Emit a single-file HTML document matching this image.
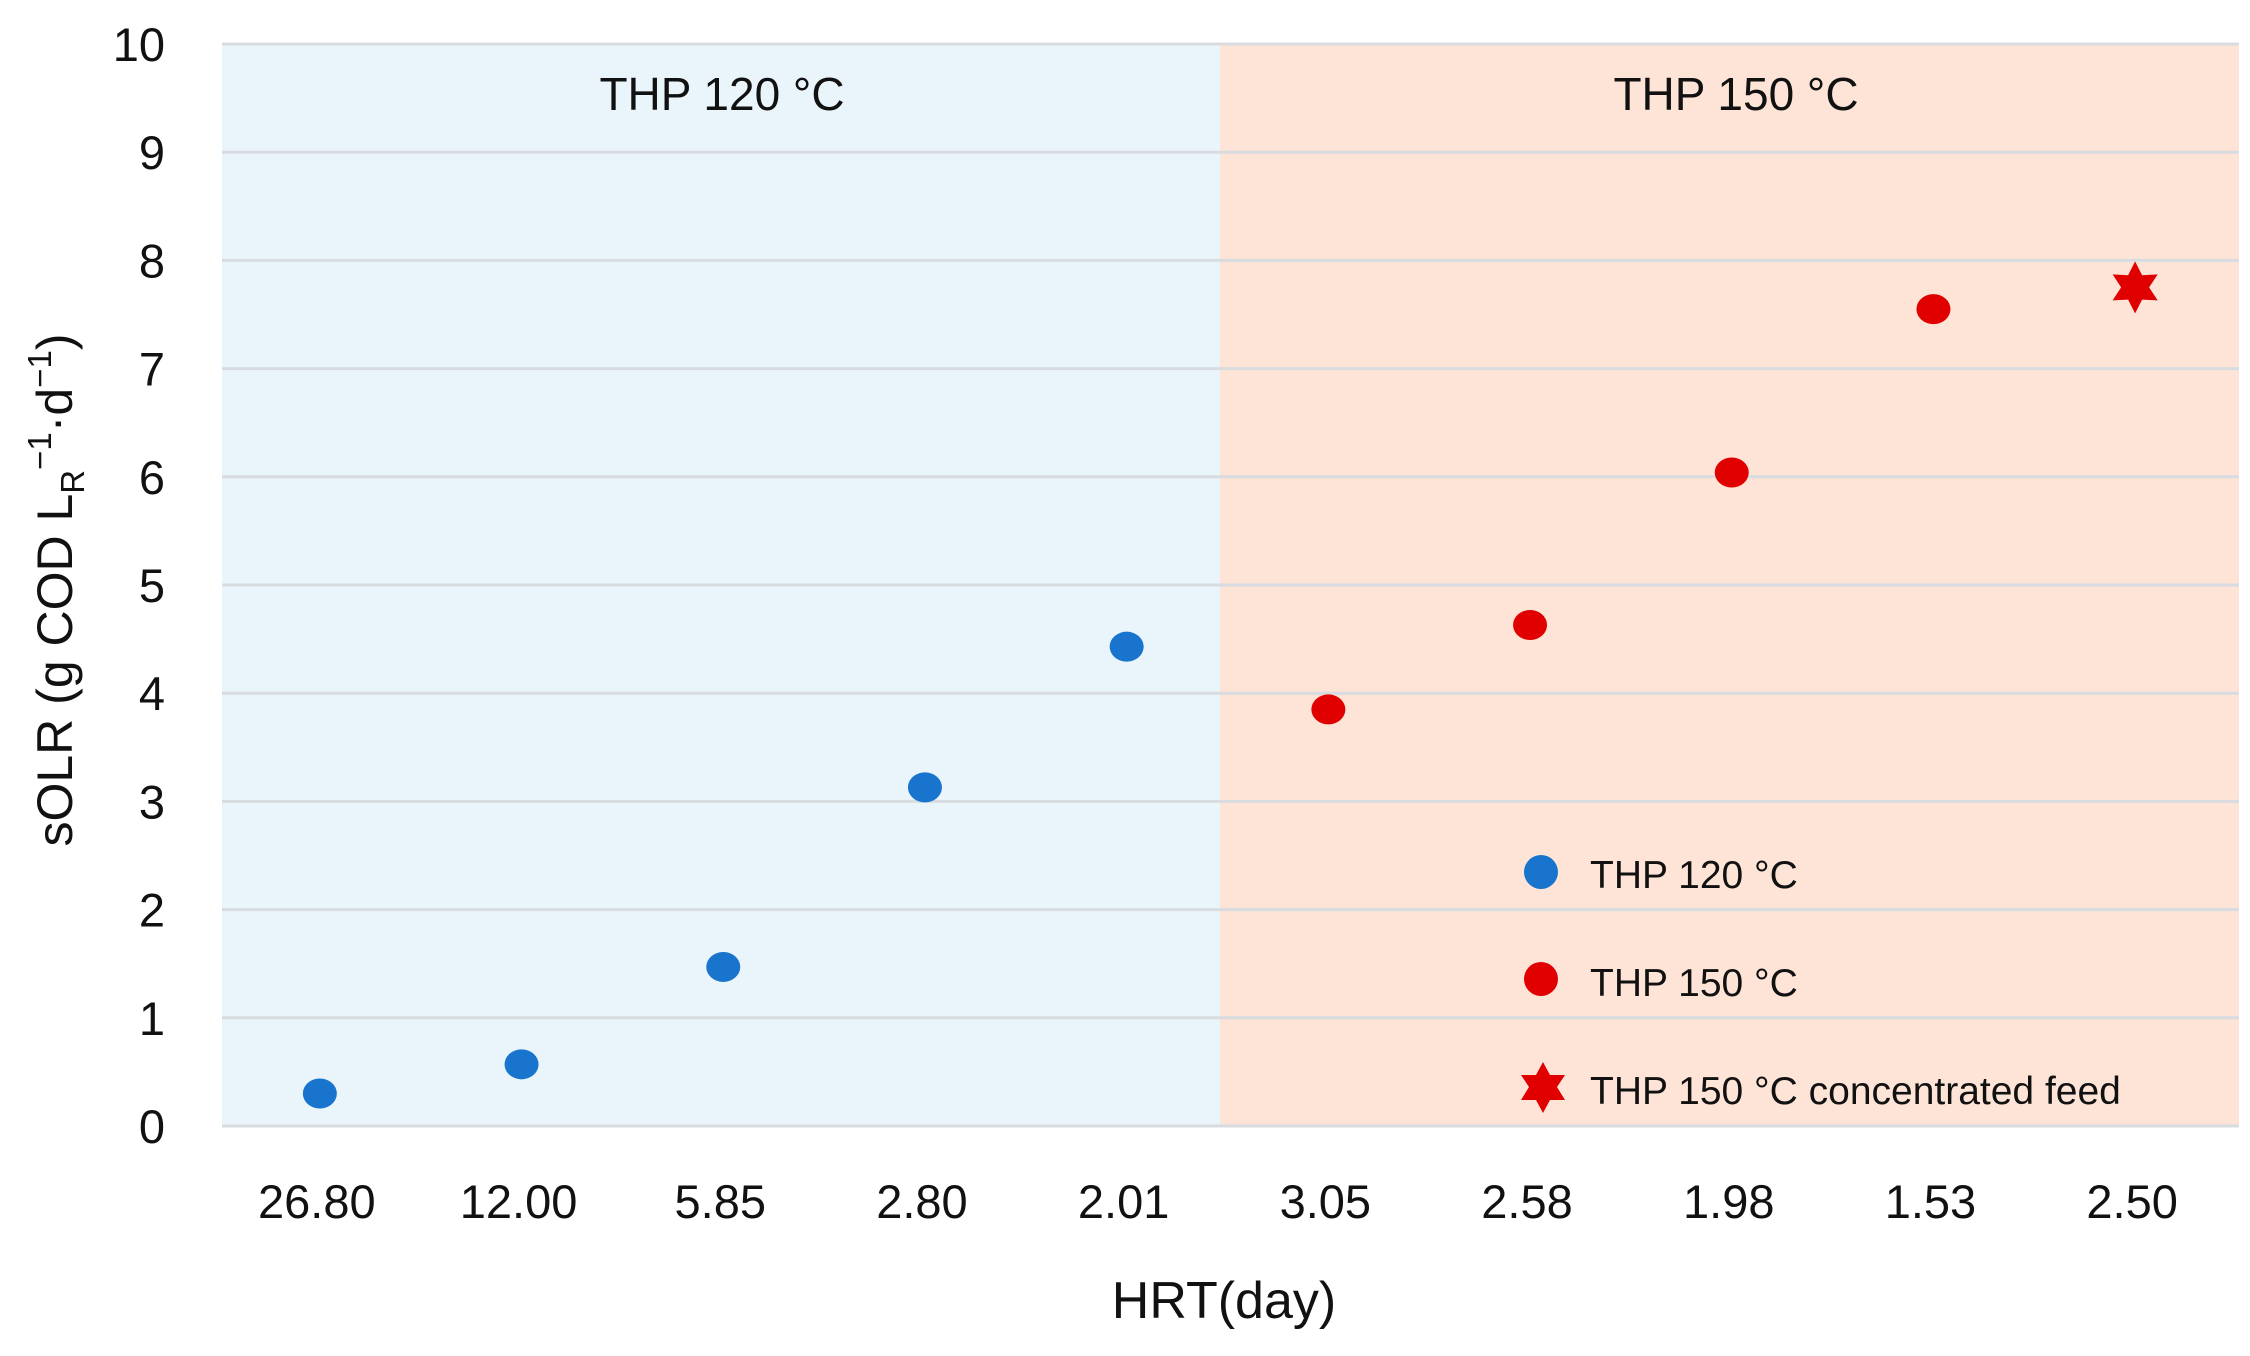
<!DOCTYPE html>
<html><head><meta charset="utf-8"><style>
html,body{margin:0;padding:0;background:#fff;}
svg{display:block;}
text{font-family:"Liberation Sans",sans-serif;fill:#111;}
</style></head><body>
<svg id="chart" width="2250" height="1356" viewBox="0 0 2250 1356">
<rect x="222" y="44" width="998" height="1082" fill="#eaf5fb"/>
<rect x="1220" y="44" width="1019" height="1082" fill="#fde4d6"/>
<g id="grid"></g>
<g id="yticks"></g>
<g id="xticks"></g>
<text x="722" y="110" font-size="46" text-anchor="middle">THP 120 °C</text>
<text x="1736" y="110" font-size="46" text-anchor="middle">THP 150 °C</text>
<text x="1224" y="1318" font-size="52" text-anchor="middle">HRT(day)</text>
<text transform="translate(72,590) rotate(-90)" font-size="50" text-anchor="middle">sOLR (g COD L<tspan font-size="33" dy="12">R</tspan><tspan font-size="33" dy="-33">−1</tspan><tspan dy="21">·d</tspan><tspan font-size="33" dy="-21">−1</tspan><tspan dy="21">)</tspan></text>
<g id="marks"></g>
<g>
<ellipse cx="1541" cy="872" rx="17" ry="17" fill="#1874cd"/>
<text x="1590" y="888" font-size="39">THP 120 °C</text>
<ellipse cx="1541" cy="979" rx="17" ry="17" fill="#e00000"/>
<text x="1590" y="996" font-size="39">THP 150 °C</text>
<polygon points="1543,1062 1550,1075 1565,1075 1557,1087 1565,1100 1550,1100 1543,1113 1536,1100 1521,1100 1529,1087 1521,1075 1536,1075" fill="#e00000"/>
<text x="1590" y="1104" font-size="39">THP 150 °C concentrated feed</text>
</g>
</svg>
<script>
const categories = ["26.80","12.00","5.85","2.80","2.01","3.05","2.58","1.98","1.53","2.50"];
const yTicks = [0,1,2,3,4,5,6,7,8,9,10];
const thp120 = [0.30,0.57,1.47,3.13,4.43,null,null,null,null,null];
const thp150 = [null,null,null,null,null,3.85,4.63,6.04,7.55,null];
const thp150conc = [null,null,null,null,null,null,null,null,null,7.75];

const NS="http://www.w3.org/2000/svg";
const L=222,R=2239,T=44,B=1126;
const bw=(R-L)/categories.length;
function xs(i){return L+bw*(i+0.5)-3;}
function ys(v){return B-(v/10)*(B-T);}
function mk(tag,attrs,parent){const e=document.createElementNS(NS,tag);for(const k in attrs)e.setAttribute(k,attrs[k]);parent.appendChild(e);return e;}
const grid=document.getElementById('grid'),yt=document.getElementById('yticks'),xt=document.getElementById('xticks'),marks=document.getElementById('marks');
yTicks.forEach(v=>{
  const l=mk('line',{x1:L,x2:R,y1:ys(v),y2:ys(v),stroke:'#d8dce0','stroke-width':3},grid);
  
  
  const t=mk('text',{x:165,y:ys(v)+17,'font-size':47,'text-anchor':'end'},yt);
  t.textContent=v;
  
  
});
categories.forEach((c,i)=>{
  const t=mk('text',{x:xs(i)-3,y:1218,'font-size':47,'text-anchor':'middle'},xt);
  t.textContent=c;
  
  
});
thp120.forEach((v,i)=>{if(v==null)return;
  const e=mk('ellipse',{cx:xs(i),cy:ys(v),rx:17,ry:15,fill:'#1874cd'},marks);
  
  
});
thp150.forEach((v,i)=>{if(v==null)return;
  const e=mk('ellipse',{cx:xs(i),cy:ys(v),rx:17,ry:15,fill:'#e00000'},marks);
  
  
});
thp150conc.forEach((v,i)=>{if(v==null)return;
  const cx=xs(i),cy=ys(v),r1=26,r2=14;let p=[];
  for(let k=0;k<12;k++){const a=-Math.PI/2+k*Math.PI/6;const r=k%2?r2:r1;p.push((cx+r*Math.cos(a)).toFixed(1)+','+(cy+r*Math.sin(a)).toFixed(1));}
  const e=mk('polygon',{points:p.join(' '),fill:'#e00000'},marks);
  
  
});
</script>
</body></html>
